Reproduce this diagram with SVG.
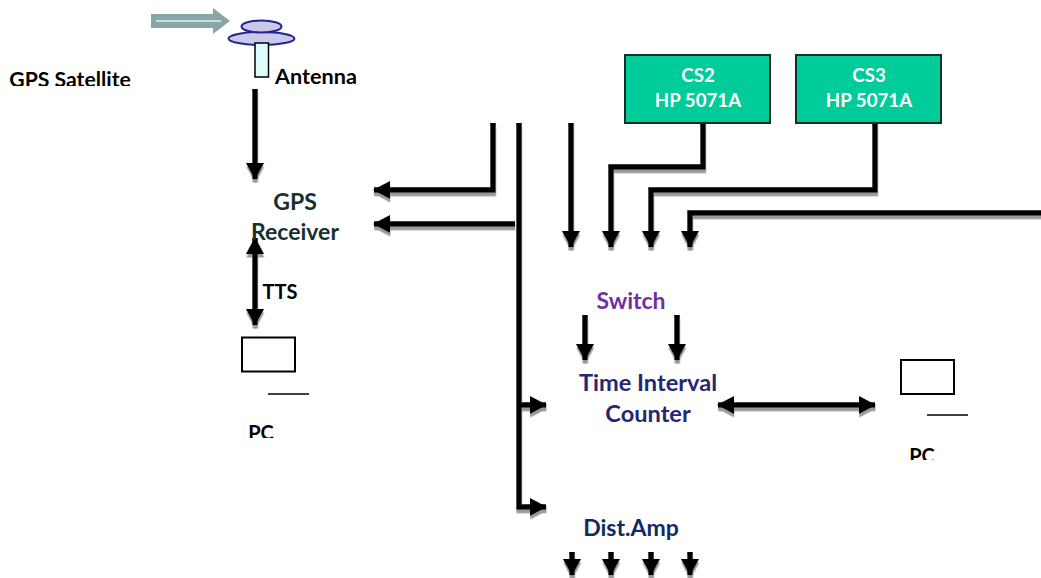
<svg xmlns="http://www.w3.org/2000/svg" width="1041" height="578" viewBox="0 0 1041 578">
<style>
text{font-family:Lato,"Open Sans","Liberation Sans",sans-serif;font-weight:700;text-anchor:middle}
.k{fill:#000;font-size:20px}
.h{font-size:23px}
.c{stroke:#000;stroke-width:5.500;fill:none;stroke-linejoin:miter}
.box{fill:#fff;stroke:#000;stroke-width:2}
.cs{fill:#00cc99;stroke:#10302a;stroke-width:2}
.cst{fill:#fff;font-size:18.700px}
.ant{fill:#c9c9ec;stroke:#25258f;stroke-width:2}
</style>
<defs>
<marker id="a" markerUnits="userSpaceOnUse" markerWidth="19" markerHeight="19" refX="16" refY="9" orient="auto-start-reverse"><path d="M0 0L17 9L0 18Z"/></marker>
<filter id="s" x="-5%" y="-5%" width="110%" height="110%" filterUnits="objectBoundingBox"><feDropShadow dx="0.300" dy="3.500" stdDeviation="0.200" flood-color="#999"/></filter>
<clipPath id="c1"><rect x="0" y="60" width="400" height="26"/></clipPath>
<clipPath id="c2"><rect x="230" y="420" width="60" height="18"/></clipPath>
<clipPath id="c3"><rect x="890" y="442" width="60" height="18"/></clipPath>
</defs>
<g id="connectors">
<g filter="url(#s)">
<path class="c" d="M255 89V179" marker-end="url(#a)"/>
<path class="c" d="M493 123V190H374" marker-end="url(#a)"/>
<path class="c" d="M515 224H374" marker-end="url(#a)"/>
<path class="c" d="M255 325V238" marker-end="url(#a)" marker-start="url(#a)"/>
<path class="c" d="M519 123V507H546" marker-end="url(#a)"/>
<path class="c" d="M519 405H546" marker-end="url(#a)"/>
<path class="c" d="M571 123V247" marker-end="url(#a)"/>
<path class="c" d="M703 123V167H611V247" marker-end="url(#a)"/>
<path class="c" d="M875 123V190H651V247" marker-end="url(#a)"/>
<path class="c" d="M1041 213H690V247" marker-end="url(#a)"/>
<path class="c" d="M585 315V360" marker-end="url(#a)"/>
<path class="c" d="M677 315V360" marker-end="url(#a)"/>
<path class="c" d="M718 405H875" marker-end="url(#a)" marker-start="url(#a)"/>
<path class="c" d="M572 552V575" marker-end="url(#a)"/>
<path class="c" d="M611 552V575" marker-end="url(#a)"/>
<path class="c" d="M651 552V575" marker-end="url(#a)"/>
<path class="c" d="M690 552V575" marker-end="url(#a)"/>
</g>
<path d="M268 394H309M927 415H968" stroke="#000" stroke-width="1.600" fill="none"/>
</g>
<g id="gps-satellite">
<path d="M151 14H213V8L230 21L213 34V28H151Z" fill="#88a6a6"/>
<path d="M156 21H221" stroke="#c4e0e0" stroke-width="2"/>
<text x="70" y="87" style="font-size:21.200px" fill="#000" clip-path="url(#c1)">GPS Satellite</text>
</g>
<g id="antenna">
<ellipse cx="261.500" cy="38.500" rx="33" ry="6.500" class="ant"/>
<ellipse cx="261.500" cy="26.500" rx="20" ry="6" class="ant"/>
<rect x="255" y="43" width="13.500" height="34" fill="#dcfbfb" stroke="#000" stroke-width="1.500"/>
<text x="316" y="84" class="k" style="font-size:21.600px" clip-path="url(#c1)">Antenna</text>
</g>
<g id="gps-receiver"><text x="295" y="210" class="h" fill="#153030">GPS</text><text x="295" y="240" class="h" fill="#153030">Receiver</text></g>
<g id="tts"><text x="280" y="299" class="k">TTS</text></g>
<g id="pc-left"><rect class="box" x="242" y="337.500" width="53" height="34"/><text x="261" y="440" class="k" clip-path="url(#c2)">PC</text></g>
<g id="cs2"><rect class="cs" x="625" y="55" width="145" height="68"/><text x="698" y="82" class="cst">CS2</text><text x="698" y="107" class="cst">HP 5071A</text></g>
<g id="cs3"><rect class="cs" x="796" y="55" width="145" height="68"/><text x="869" y="82" class="cst">CS3</text><text x="869" y="107" class="cst">HP 5071A</text></g>
<g id="switch"><text x="631" y="309" class="h" fill="#7030a0">Switch</text></g>
<g id="tic"><text x="648" y="391" class="h" style="font-size:23.600px" fill="#262673">Time Interval</text><text x="648" y="422" class="h" style="font-size:23.600px" fill="#262673">Counter</text></g>
<g id="pc-right"><rect class="box" x="901" y="360" width="53" height="34"/><text x="922" y="463" class="k" clip-path="url(#c3)">PC</text></g>
<g id="dist-amp"><text x="631" y="536" class="h" fill="#0f2a66">Dist.Amp</text></g>
</svg>
